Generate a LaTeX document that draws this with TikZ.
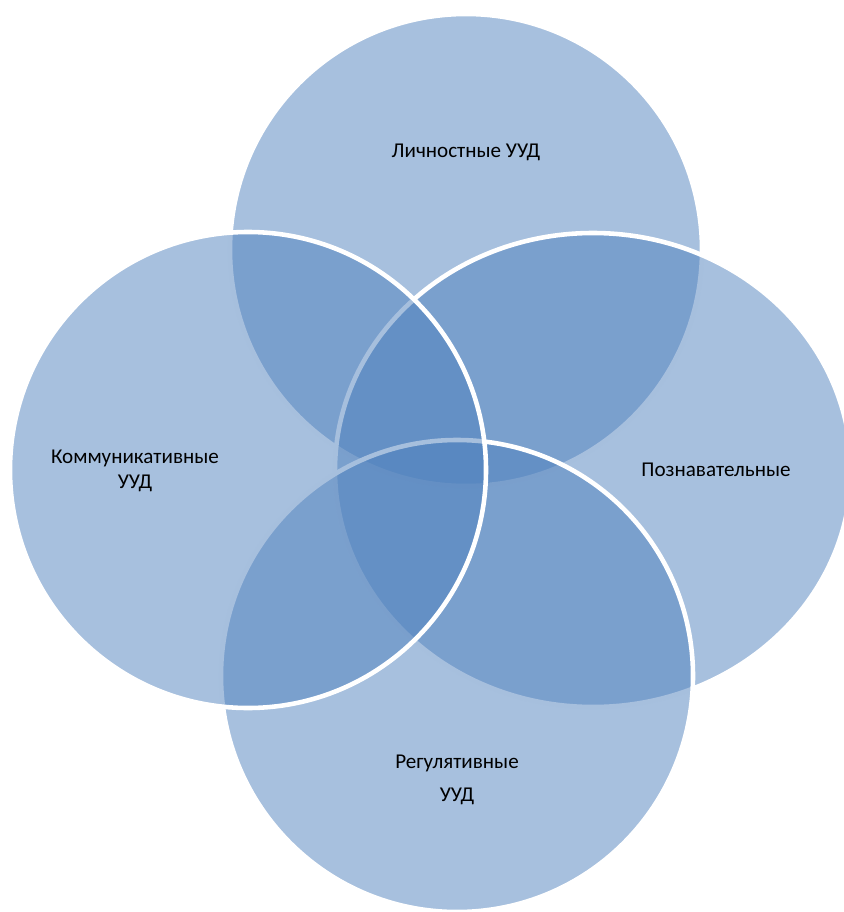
\documentclass[tikz,border=0pt]{standalone}
\usepackage{fontspec}
\setmainfont{Carlito}
\definecolor{vennblue}{RGB}{79,129,189}
\tikzset{
	venn/.style={fill=vennblue, fill opacity=0.5, draw=white, draw opacity=1, line width=2.6pt},
	label/.style={font=\fontsize{12}{14.2}\selectfont, text=black, align=center, inner sep=0pt}
}

\begin{document}
\begin{tikzpicture}[x=0.02cm, y=-0.02cm]
\begin{scope}
	\useasboundingbox (0,0) rectangle (843,912);
	% four circles, drawn in the order top, right, bottom, left
	\filldraw[venn] (466,250) circle (236);
	\filldraw[venn] (593,470) ellipse [x radius=258, y radius=237];
	\filldraw[venn] (457,676) circle (236);
	\filldraw[venn] (248,470) circle (238);
	\node[label] (lich) at (466,152) {Личностные УУД};
	\node[label] (pozn) at (716,470) {Познавательные};
	\node[label] (komm) at (135,471) {Коммуникативные\\УУД};
	\node[label] (regul) at (457,780) {Регулятивные\\[5pt]УУД};
\end{scope}
\end{tikzpicture}
\end{document}
